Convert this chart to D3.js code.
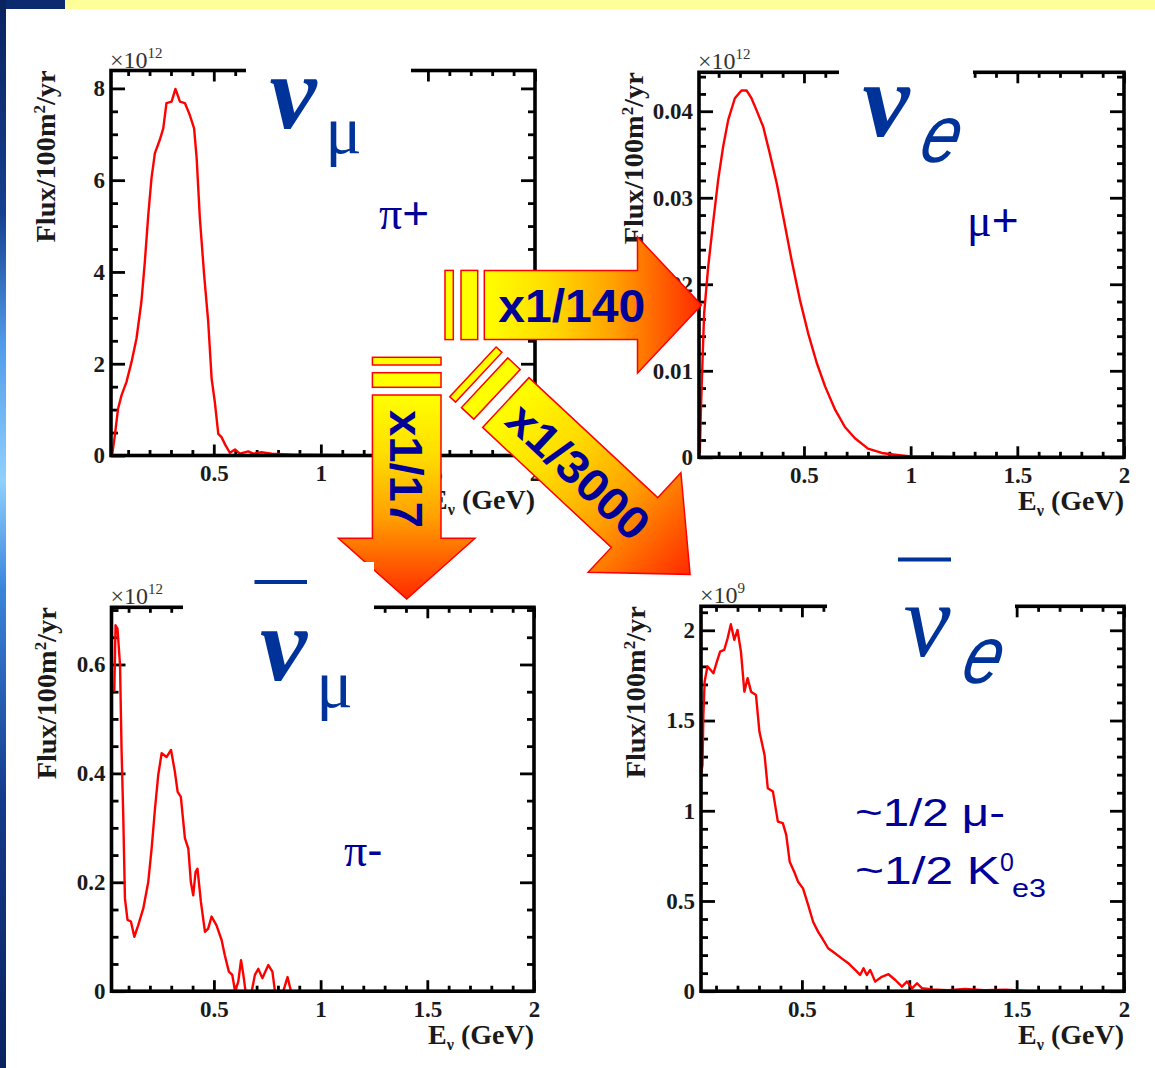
<!DOCTYPE html>
<html>
<head>
<meta charset="utf-8">
<script src="https://cdn.jsdelivr.net/npm/d3@7"></script>
<style>
body { margin: 0; background: #fff; }
svg { display: block; }
</style>
</head>
<body>
<script>
var width = 1155;
var height = 1068;

// nu_mu flux (x10^12 / 100m^2 / yr) against E_nu (GeV), pi+ decays
var numuE = [0.025, 0.038, 0.053, 0.069, 0.092, 0.116, 0.139, 0.162, 0.178, 0.194, 0.209, 0.225, 0.248, 0.264, 0.279, 0.303, 0.321, 0.342, 0.365, 0.388, 0.408, 0.42, 0.435, 0.455, 0.474, 0.49, 0.505, 0.521, 0.536, 0.555, 0.575, 0.599, 0.622, 0.661, 0.684, 0.723, 0.77, 0.82, 0.88, 0.95, 1.05, 1.2, 1.4, 2.0];
var numuFlux = [0, 0.44, 1.02, 1.31, 1.6, 2.04, 2.55, 3.35, 4.22, 5.24, 6.04, 6.59, 6.88, 7.13, 7.68, 7.71, 7.99, 7.71, 7.68, 7.42, 7.13, 6.48, 5.17, 3.93, 2.91, 1.67, 1.16, 0.47, 0.4, 0.22, 0.06, 0.13, 0.04, 0.09, 0.04, 0.07, 0.04, 0.03, 0.02, 0.015, 0.01, 0.005, 0, 0];

// nu_e flux (x10^12), mu+ decays
var nueE = [0.012, 0.016, 0.023, 0.032, 0.051, 0.074, 0.098, 0.121, 0.145, 0.176, 0.207, 0.231, 0.254, 0.278, 0.309, 0.34, 0.372, 0.403, 0.442, 0.481, 0.52, 0.56, 0.599, 0.646, 0.692, 0.739, 0.8, 0.865, 0.927, 1.0, 1.2, 2.0];
var nueFlux = [0.0005, 0.0047, 0.0101, 0.0166, 0.022, 0.0271, 0.0321, 0.0359, 0.039, 0.0415, 0.0424, 0.0424, 0.0415, 0.0401, 0.0382, 0.0351, 0.0317, 0.0278, 0.0228, 0.0182, 0.0143, 0.0109, 0.0082, 0.0055, 0.0035, 0.0022, 0.001, 0.0005, 0.0003, 0.0001, 0, 0];

// anti nu_mu flux (x10^12), pi- decays
var numubarE = [0.033, 0.039, 0.048, 0.06, 0.067, 0.075, 0.083, 0.095, 0.111, 0.127, 0.145, 0.169, 0.192, 0.208, 0.224, 0.239, 0.255, 0.278, 0.299, 0.317, 0.33, 0.345, 0.364, 0.38, 0.392, 0.403, 0.414, 0.423, 0.439, 0.458, 0.473, 0.489, 0.512, 0.536, 0.551, 0.57, 0.586, 0.599, 0.614, 0.627, 0.638, 0.648, 0.677, 0.692, 0.708, 0.727, 0.755, 0.774, 0.786, 0.825, 0.845, 0.861, 2.0];
var numubarFlux = [0.55, 0.672, 0.666, 0.599, 0.446, 0.323, 0.17, 0.131, 0.128, 0.1, 0.121, 0.152, 0.2, 0.262, 0.336, 0.397, 0.437, 0.43, 0.443, 0.403, 0.366, 0.357, 0.281, 0.262, 0.2, 0.176, 0.219, 0.225, 0.164, 0.109, 0.115, 0.137, 0.121, 0.094, 0.066, 0.036, 0.03, 0, 0.017, 0.057, 0.03, 0, 0, 0.03, 0.041, 0.024, 0.048, 0.036, 0, 0, 0.026, 0, 0];

// anti nu_e flux (x10^9), mu- and K0e3 decays
var nuebarE = [0.03, 0.037, 0.041, 0.047, 0.06, 0.075, 0.088, 0.104, 0.119, 0.138, 0.154, 0.169, 0.185, 0.2, 0.216, 0.232, 0.247, 0.263, 0.286, 0.302, 0.326, 0.341, 0.365, 0.388, 0.411, 0.427, 0.443, 0.464, 0.482, 0.505, 0.529, 0.552, 0.575, 0.599, 0.622, 0.654, 0.685, 0.716, 0.748, 0.771, 0.787, 0.802, 0.818, 0.841, 0.872, 0.903, 0.935, 0.966, 0.989, 1.013, 1.036, 1.06, 1.106, 1.18, 1.26, 1.35, 1.45, 1.55, 2.0];
var nuebarFlux = [1.2, 1.254, 1.53, 1.716, 1.8, 1.78, 1.762, 1.826, 1.882, 1.891, 1.956, 2.034, 1.947, 2.002, 1.882, 1.66, 1.735, 1.66, 1.642, 1.439, 1.309, 1.125, 1.106, 0.94, 0.931, 0.866, 0.718, 0.662, 0.607, 0.57, 0.478, 0.385, 0.33, 0.284, 0.238, 0.21, 0.182, 0.155, 0.118, 0.09, 0.127, 0.09, 0.118, 0.053, 0.08, 0.094, 0.062, 0.025, 0.053, 0.016, 0.044, 0.016, 0.01, 0.005, 0.012, 0.005, 0.008, 0, 0];

// tick labels
var xTicks = [0.5, 1, 1.5, 2];
var numuYTicks = [0, 2, 4, 6, 8];
var nueYTicks = [0, 0.01, 0.02, 0.03, 0.04];
var numubarYTicks = [0, 0.2, 0.4, 0.6];
var nuebarYTicks = [0, 0.5, 1, 1.5, 2];

var serif = "'Liberation Serif', 'Times New Roman', serif";
var sans = "'Liberation Sans', Arial, sans-serif";
var navy = "#000099";
var greekBlue = "#003399";

var svg = d3.select("body").append("svg")
    .attr("width", width)
    .attr("height", height);

var defs = svg.append("defs");

var glow = defs.append("linearGradient")
    .attr("id", "edgeGlow")
    .attr("x1", 0).attr("y1", 0).attr("x2", 0).attr("y2", 1);
[[0, "#0a2360"], [0.2, "#16408f"], [0.32, "#4f9be8"], [0.45, "#8fd0ff"], [0.55, "#3a86dc"], [0.75, "#143a8a"], [1, "#0a2360"]].forEach(function(s) {
    glow.append("stop").attr("offset", s[0]).attr("stop-color", s[1]);
});

var arrowGrad = defs.append("linearGradient")
    .attr("id", "arrowGrad")
    .attr("x1", 0).attr("y1", 0).attr("x2", 1).attr("y2", 0);
[[0, "#ffff00"], [0.3, "#ffdc00"], [0.6, "#ffa000"], [0.8, "#ff6400"], [1, "#ff2a00"]].forEach(function(s) {
    arrowGrad.append("stop").attr("offset", s[0]).attr("stop-color", s[1]);
});

// slide background
svg.append("rect").attr("width", width).attr("height", height).attr("fill", "#0c2a6e");
svg.append("rect").attr("x", 0).attr("y", 0).attr("width", 6).attr("height", height).attr("fill", "url(#edgeGlow)");
svg.append("rect").attr("x", 65).attr("y", 0).attr("width", width - 65).attr("height", 9).attr("fill", "#ffff99");
svg.append("rect").attr("x", 6).attr("y", 9).attr("width", width - 6).attr("height", height - 9).attr("fill", "#ffffff");

var panels = [
    {e: numuE, flux: numuFlux, yTicks: numuYTicks, yMajor: 2, yMinor: 0.5, yMax: 8.39, exp: "12",
     left: 111, right: 535, top: 70.5, bottom: 455.5, xMin: 0.02},
    {e: nueE, flux: nueFlux, yTicks: nueYTicks, yMajor: 0.01, yMinor: 0.002, yMax: 0.0445, exp: "12",
     left: 699, right: 1124, top: 72.3, bottom: 457.3, xMin: 0.008},
    {e: numubarE, flux: numubarFlux, yTicks: numubarYTicks, yMajor: 0.2, yMinor: 0.05, yMax: 0.705, exp: "12",
     left: 111.5, right: 534, top: 607.3, bottom: 991.2, xMin: 0.02},
    {e: nuebarE, flux: nuebarFlux, yTicks: nuebarYTicks, yMajor: 0.5, yMinor: 0.1, yMax: 2.133, exp: "9",
     left: 701, right: 1124, top: 606.3, bottom: 991.2, xMin: 0.03}
];

function minorTicks(lo, hi, step, major) {
    return d3.range(0, hi + step / 2, step).filter(function(v) {
        var r = v / major;
        return v >= lo && v <= hi && Math.abs(r - Math.round(r)) > 1e-6;
    });
}

function styleAxis(sel, labels) {
    sel.select(".domain").remove();
    sel.selectAll("line").attr("stroke", "#000").attr("stroke-width", 2.8);
    sel.attr("font-family", serif).attr("font-size", 23).attr("font-weight", "bold");
    sel.selectAll("text").attr("fill", "#1a1a1a");
    if (!labels) sel.selectAll("text").remove();
}

panels.forEach(function(p) {
    var x = d3.scaleLinear().domain([p.xMin, 2]).range([p.left, p.right]);
    var y = d3.scaleLinear().domain([0, p.yMax]).range([p.bottom, p.top]);
    var g = svg.append("g");

    var xMinor = minorTicks(p.xMin, 2, 0.1, 0.5);
    var yMinor = minorTicks(0, p.yMax, p.yMinor, p.yMajor);

    // ticks point into the frame on all four sides
    g.append("g").attr("transform", "translate(0," + p.bottom + ")")
        .call(d3.axisBottom(x).tickValues(xTicks).tickSize(-11).tickPadding(9).tickFormat(function(d) { return String(d); }))
        .call(styleAxis, true);
    g.append("g").attr("transform", "translate(0," + p.bottom + ")")
        .call(d3.axisBottom(x).tickValues(xMinor).tickSize(-5.5).tickFormat(""))
        .call(styleAxis, false);
    g.append("g").attr("transform", "translate(0," + p.top + ")")
        .call(d3.axisTop(x).tickValues(xTicks).tickSize(-11).tickFormat(""))
        .call(styleAxis, false);
    g.append("g").attr("transform", "translate(0," + p.top + ")")
        .call(d3.axisTop(x).tickValues(xMinor).tickSize(-5.5).tickFormat(""))
        .call(styleAxis, false);
    g.append("g").attr("transform", "translate(" + p.left + ",0)")
        .call(d3.axisLeft(y).tickValues(p.yTicks).tickSize(-14).tickPadding(6).tickFormat(function(d) { return String(d); }))
        .call(styleAxis, true);
    g.append("g").attr("transform", "translate(" + p.left + ",0)")
        .call(d3.axisLeft(y).tickValues(yMinor).tickSize(-7).tickFormat(""))
        .call(styleAxis, false);
    g.append("g").attr("transform", "translate(" + p.right + ",0)")
        .call(d3.axisRight(y).tickValues(p.yTicks).tickSize(-14).tickFormat(""))
        .call(styleAxis, false);
    g.append("g").attr("transform", "translate(" + p.right + ",0)")
        .call(d3.axisRight(y).tickValues(yMinor).tickSize(-7).tickFormat(""))
        .call(styleAxis, false);

    g.append("path")
        .datum(d3.zip(p.e, p.flux))
        .attr("fill", "none")
        .attr("stroke", "#ff0000")
        .attr("stroke-width", 2.4)
        .attr("stroke-linejoin", "round")
        .attr("d", d3.line()
            .x(function(d) { return x(d[0]); })
            .y(function(d) { return y(d[1]); }));

    g.append("rect")
        .attr("x", p.left).attr("y", p.top)
        .attr("width", p.right - p.left).attr("height", p.bottom - p.top)
        .attr("fill", "none")
        .attr("stroke", "#000")
        .attr("stroke-width", 3.6);

    // exponent above the frame
    var ex = g.append("text")
        .attr("x", p.left - 1).attr("y", p.top - 3)
        .attr("font-family", serif).attr("font-size", 24)
        .attr("fill", "#333")
        .text("\u00d710");
    ex.append("tspan").attr("font-size", 15).attr("dy", -10).text(p.exp);

    // y title
    var yt = g.append("text")
        .attr("transform", "translate(" + (p.left - 56) + "," + p.top + ") rotate(-90)")
        .attr("text-anchor", "end")
        .attr("font-family", serif).attr("font-size", 27).attr("font-weight", "bold")
        .attr("fill", "#1a1a1a")
        .attr("textLength", 172).attr("lengthAdjust", "spacingAndGlyphs");
    yt.append("tspan").text("Flux/100m");
    yt.append("tspan").attr("font-size", 16).attr("dy", -10).text("2");
    yt.append("tspan").attr("dy", 10).text("/yr");

    // x title
    var xt = g.append("text")
        .attr("x", p.right).attr("y", p.bottom + 53)
        .attr("text-anchor", "end")
        .attr("font-family", serif).attr("font-size", 28).attr("font-weight", "bold")
        .attr("fill", "#1a1a1a");
    xt.append("tspan").text("E");
    xt.append("tspan").attr("font-size", 16).attr("dy", 6).text("\u03bd");
    xt.append("tspan").attr("dy", -6).text(" (GeV)");
});

// white label boxes with the neutrino symbols
function labelBox(b) {
    svg.append("rect").attr("x", b.x).attr("y", b.y).attr("width", b.w).attr("height", b.h).attr("fill", "#ffffff");
    if (b.bar) {
        svg.append("rect").attr("x", b.bar[0]).attr("y", b.bar[1]).attr("width", b.bar[2]).attr("height", 4).attr("fill", greekBlue);
    }
    svg.append("text")
        .attr("x", b.nu[0]).attr("y", b.nu[1])
        .attr("text-anchor", "middle")
        .attr("font-family", serif).attr("font-size", 106)
        .attr("font-weight", b.nuWeight).attr("font-style", "italic")
        .attr("fill", greekBlue)
        .text("\u03bd");
    if (b.sub === "\u03bc") {
        svg.append("text")
            .attr("x", b.subPos[0]).attr("y", b.subPos[1])
            .attr("text-anchor", "middle")
            .attr("font-family", serif).attr("font-size", 68)
            .attr("fill", greekBlue)
            .text(b.sub);
    } else {
        svg.append("text")
            .attr("transform", "translate(" + b.subPos[0] + "," + b.subPos[1] + ") skewX(-14)")
            .attr("text-anchor", "middle")
            .attr("font-family", sans).attr("font-size", 82).attr("font-style", "italic")
            .attr("textLength", 38).attr("lengthAdjust", "spacingAndGlyphs")
            .attr("fill", greekBlue)
            .text(b.sub);
    }
}

labelBox({x: 246, y: 60, w: 165, h: 108, nu: [293, 127.5], nuWeight: "bold", sub: "\u03bc", subPos: [343.5, 153]});
labelBox({x: 839, y: 60, w: 134, h: 112, nu: [886, 136], nuWeight: "bold", sub: "e", subPos: [936, 162]});
labelBox({x: 827, y: 545, w: 188, h: 145, bar: [898, 557.5, 53], nu: [927, 656], nuWeight: "normal", sub: "e", subPos: [978, 683]});

// fat arrows with scaling factors
function drawArrow(a) {
    var g = svg.append("g")
        .attr("transform", "translate(" + a.x + "," + a.y + ") rotate(" + a.angle + ")");
    a.stripes.forEach(function(s) {
        g.append("rect")
            .attr("x", s[0]).attr("y", -a.body)
            .attr("width", s[1] - s[0]).attr("height", 2 * a.body)
            .attr("fill", "#ffff00")
            .attr("stroke", "#ff0000").attr("stroke-width", 1.5);
    });
    var pts = [[0, -a.body], [a.len, -a.body], [a.len, -a.head], [a.len + a.tip, 0],
               [a.len, a.head], [a.len, a.body], [0, a.body]];
    g.append("path")
        .attr("d", d3.line()(pts) + "Z")
        .attr("fill", "url(#arrowGrad)")
        .attr("stroke", "#ff0000").attr("stroke-width", 1.5)
        .attr("stroke-linejoin", "miter");
    g.append("text")
        .attr("x", a.textX).attr("y", 17)
        .attr("font-family", sans).attr("font-size", 46).attr("font-weight", "bold")
        .attr("fill", navy)
        .attr("textLength", a.textLen).attr("lengthAdjust", "spacingAndGlyphs")
        .text(a.label);
}

drawArrow({x: 406.7, y: 395, angle: 90, len: 143.3, tip: 60.7, body: 34.3, head: 68.3,
           stripes: [[-37.7, -30], [-22.3, -7.7]], label: "x1/17", textX: 15, textLen: 118});
drawArrow({x: 484.3, y: 305, angle: 0, len: 153.2, tip: 64, body: 34.6, head: 68,
           stripes: [[-39.3, -31], [-23.3, -6.6]], label: "x1/140", textX: 14, textLen: 147});
drawArrow({x: 505.8, y: 402.5, angle: 43, len: 176, tip: 76, body: 34, head: 68,
           stripes: [[-45, -37], [-29, -12]], label: "x1/3000", textX: 12, textLen: 176});

labelBox({x: 183, y: 562, w: 191, h: 150, bar: [254.5, 580, 52.5], nu: [283.5, 680], nuWeight: "bold", sub: "\u03bc", subPos: [334.5, 707]});

// parent particle notes
function note(x, y, greek, sign) {
    var t = svg.append("text").attr("x", x).attr("y", y).attr("font-size", 46).attr("fill", navy);
    t.append("tspan").attr("font-family", serif).text(greek);
    t.append("tspan").attr("font-family", sans).text(sign);
}
note(379, 229, "\u03c0", "+");
note(967, 236, "\u03bc", "+");
note(344, 866, "\u03c0", "-");

svg.append("text").attr("x", 855).attr("y", 826)
    .attr("font-family", sans).attr("font-size", 38).attr("fill", navy)
    .attr("textLength", 150).attr("lengthAdjust", "spacingAndGlyphs")
    .text("~1/2 \u03bc-");
svg.append("text").attr("x", 855).attr("y", 883.5)
    .attr("font-family", sans).attr("font-size", 38).attr("fill", navy)
    .attr("textLength", 145).attr("lengthAdjust", "spacingAndGlyphs")
    .text("~1/2 K");
svg.append("text").attr("x", 1000).attr("y", 871)
    .attr("font-family", sans).attr("font-size", 25).attr("fill", navy)
    .text("0");
svg.append("text").attr("x", 1012).attr("y", 897)
    .attr("font-family", sans).attr("font-size", 25).attr("fill", navy)
    .attr("textLength", 34).attr("lengthAdjust", "spacingAndGlyphs")
    .text("e3");
</script>
</body>
</html>
